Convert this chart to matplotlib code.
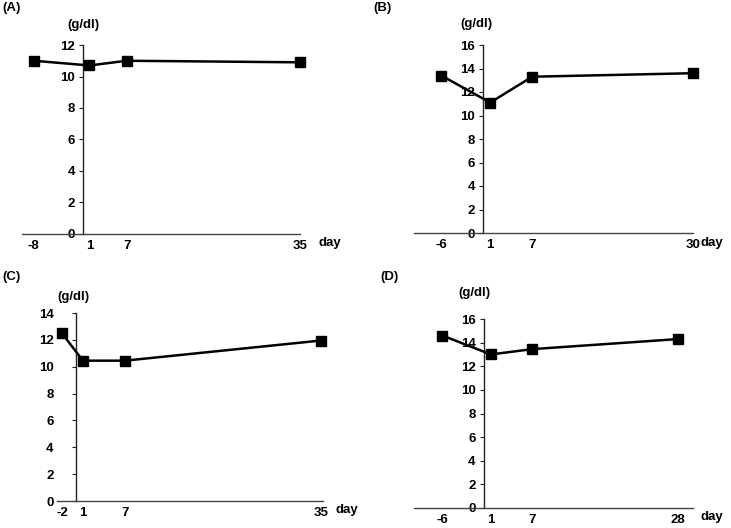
import matplotlib
matplotlib.use("Agg")
import matplotlib.pyplot as plt

plt.rcParams['font.family'] = ['Liberation Sans', 'DejaVu Sans']
plt.rcParams['font.weight'] = 'bold'

W, H = 731, 528
FS = 9.5

# hemoglobin per panel
days_a = [-8, 1, 7, 35]
hb_a = [11.0, 10.7, 11.0, 10.9]
days_b = [-6, 1, 7, 30]
hb_b = [13.4, 11.1, 13.3, 13.6]
days_c = [-2, 1, 7, 35]
hb_c = [12.5, 10.45, 10.45, 11.95]
days_d = [-6, 1, 7, 28]
hb_d = [14.6, 13.0, 13.45, 14.3]

panels = [
    # label, days, values, ymax, pixel box (x0, x1, ytop, ybottom), xlim, ylab pad, label pos, unit pos, day pos
    ("(A)", days_a, hb_a, 12, (22, 300, 45, 234), (-9.9, 35.0), 3.0, (2, 8), (83, 25), (330, 243)),
    ("(B)", days_b, hb_b, 16, (414, 693, 45, 233), (-9.9, 30.0), 3.0, (373, 8), (476, 24), (712, 243)),
    ("(C)", days_c, hb_c, 14, (57, 323, 313, 501), (-2.7, 35.3), 13, (2, 277), (73, 297), (347, 510)),
    ("(D)", days_d, hb_d, 16, (414, 693, 319, 508), (-10.1, 30.2), 3.0, (380, 277), (474, 293), (712, 517)),
]

fig = plt.figure(figsize=(W / 100, H / 100), dpi=100)

for lab, days, vals, ymax, box, xlim, ypad, lpos, upos, dpos in panels:
    x0, x1, yt, yb = box
    ax = fig.add_axes([x0 / W, 1 - yb / H, (x1 - x0) / W, (yb - yt) / H])
    ax.plot(days, vals, color='black', lw=1.8, marker='s', ms=7.5,
            clip_on=False, zorder=5)
    ax.set_xlim(*xlim)
    ax.set_ylim(0, ymax)
    ax.spines['left'].set_position(('data', 0))
    ax.spines['top'].set_visible(False)
    ax.spines['right'].set_visible(False)
    ax.spines['left'].set_color('#222222')
    ax.spines['bottom'].set_color('#444444')
    ax.spines['left'].set_linewidth(1.0)
    ax.spines['bottom'].set_linewidth(1.0)
    ax.set_yticks(range(0, ymax + 1, 2))
    ax.set_xticks(days)
    ax.set_xticklabels([str(d) for d in days])
    ax.tick_params(axis='y', length=3, width=0.8, pad=ypad, labelsize=FS,
                   color='#222222')
    ax.tick_params(axis='x', length=0, pad=4, labelsize=FS)
    for t in ax.get_xticklabels() + ax.get_yticklabels():
        t.set_fontweight('bold')
    fig.text(lpos[0] / W, 1 - lpos[1] / H, lab, fontsize=FS, fontweight='bold',
             ha='left', va='center')
    fig.text(upos[0] / W, 1 - upos[1] / H, "(g/dl)", fontsize=FS,
             fontweight='bold', ha='center', va='center')
    fig.text(dpos[0] / W, 1 - dpos[1] / H, "day", fontsize=FS,
             fontweight='bold', ha='center', va='center')

fig.savefig("out.png", dpi=100)
